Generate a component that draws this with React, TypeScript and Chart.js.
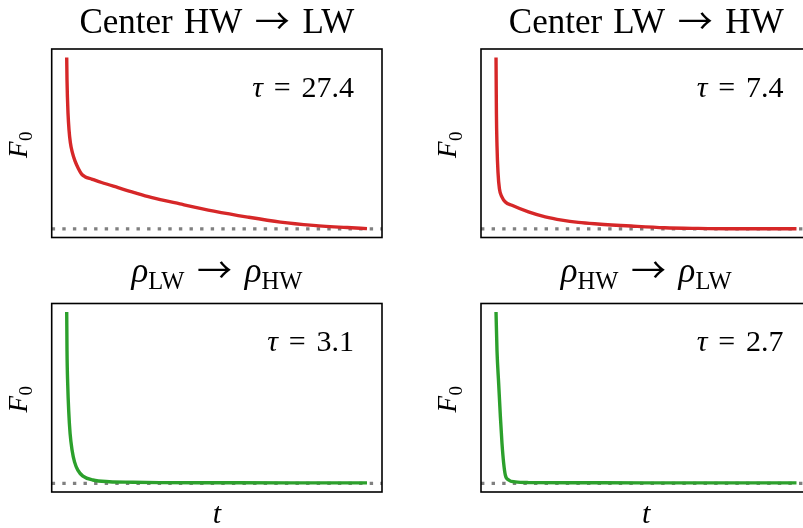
import { useEffect, useRef } from "react";
import { Chart, registerables } from "chart.js";

Chart.register(...registerables);

// ---- data (t normalised to 0..100, F0 normalised to 0..1) ----
const T_HW_LW = [0, 0.1, 0.23, 0.43, 0.76, 1.22, 1.89, 2.75, 3.87, 4.97, 6.06, 8.3, 11.6, 17.1, 22.5, 28.1, 37.7, 49.0, 60.3, 71.2, 82.1, 93.4, 100];
const F_HW_LW = [1.0, 0.869, 0.773, 0.676, 0.58, 0.503, 0.445, 0.397, 0.353, 0.32, 0.305, 0.291, 0.271, 0.241, 0.212, 0.184, 0.146, 0.104, 0.069, 0.04, 0.021, 0.008, 0.002];

const T_LW_HW = [0, 0.05, 0.13, 0.33, 0.66, 1.13, 1.99, 3.11, 5.3, 10.8, 16.4, 21.9, 27.4, 33.8, 45, 56.1, 67.1, 78, 100];
const F_LW_HW = [1.0, 0.87, 0.677, 0.484, 0.33, 0.234, 0.186, 0.157, 0.138, 0.099, 0.07, 0.051, 0.038, 0.029, 0.017, 0.007, 0.003, 0.001, 0.001];

const T_RHO_UP = [0, 0.1, 0.33, 0.66, 1.13, 1.79, 2.6, 3.7, 5.4, 8.7, 14.2, 22, 30.9, 50, 75, 100];
const F_RHO_UP = [1.0, 0.773, 0.58, 0.425, 0.29, 0.194, 0.126, 0.078, 0.043, 0.02, 0.01, 0.007, 0.005, 0.004, 0.003, 0.003];

const T_RHO_DOWN = [0, 0.33, 0.89, 1.46, 1.99, 2.55, 3.1, 4.2, 6.4, 10.9, 25, 50, 75, 100];
const F_RHO_DOWN = [1.0, 0.773, 0.58, 0.387, 0.233, 0.117, 0.049, 0.02, 0.009, 0.005, 0.004, 0.003, 0.003, 0.003];

const TAU_VALUES = ["27.4", "7.4", "3.1", "2.7"];
const BASELINE = 0; // dotted asymptote level
const X_RANGE = [-5, 105];
const Y_RANGE = [-0.05, 1.05];

type Seg = { s: string; it?: boolean; sub?: boolean; gap?: number; fam?: string; dy?: number };

const ARROW_FAMILY = "'Noto Sans CJK JP', 'DejaVu Sans', sans-serif";
const ARROW: Seg = { s: "→", gap: 0.36, fam: ARROW_FAMILY, dy: 0.02 };

const TITLE_HW_LW: Seg[] = [{ s: "Center" }, { s: "HW", gap: 0.32 }, ARROW, { s: "LW", gap: 0.36 }];
const TITLE_LW_HW: Seg[] = [{ s: "Center" }, { s: "LW", gap: 0.32 }, ARROW, { s: "HW", gap: 0.36 }];
const TITLE_RHO_UP: Seg[] = [{ s: "ρ", it: true }, { s: "LW", sub: true }, ARROW, { s: "ρ", it: true, gap: 0.36 }, { s: "HW", sub: true }];
const TITLE_RHO_DOWN: Seg[] = [{ s: "ρ", it: true }, { s: "HW", sub: true }, ARROW, { s: "ρ", it: true, gap: 0.36 }, { s: "LW", sub: true }];
const YLABEL: Seg[] = [{ s: "F", it: true }, { s: "0", sub: true, gap: 0.02 }];
const XLABEL: Seg[] = [{ s: "t", it: true }];

const RED = "#d62728";
const GREEN = "#2ca02c";
const FAMILY = "'Liberation Serif', 'DejaVu Serif', serif";
const CW = 830;
const CH = 528;

type Panel = {
  t: number[];
  f: number[];
  color: string;
  title: Seg[];
  tau: string;
  box: { left: number; right: number; top: number; bottom: number };
  titleBase: number;
  xlabel: boolean;
};

const PANELS: Panel[] = [
  { t: T_HW_LW, f: F_HW_LW, color: RED, title: TITLE_HW_LW, tau: TAU_VALUES[0], box: { left: 51.7, right: 382, top: 49, bottom: 237.5 }, titleBase: 33, xlabel: false },
  { t: T_LW_HW, f: F_LW_HW, color: RED, title: TITLE_LW_HW, tau: TAU_VALUES[1], box: { left: 481, right: 811.5, top: 49, bottom: 237.5 }, titleBase: 33, xlabel: false },
  { t: T_RHO_UP, f: F_RHO_UP, color: GREEN, title: TITLE_RHO_UP, tau: TAU_VALUES[2], box: { left: 51.7, right: 382, top: 303.5, bottom: 492 }, titleBase: 282, xlabel: true },
  { t: T_RHO_DOWN, f: F_RHO_DOWN, color: GREEN, title: TITLE_RHO_DOWN, tau: TAU_VALUES[3], box: { left: 481, right: 811.5, top: 303.5, bottom: 492 }, titleBase: 282, xlabel: true },
];

function drawRich(ctx: CanvasRenderingContext2D, segs: Seg[], size: number, x: number, y: number, align: "left" | "center" | "right") {
  const parts = segs.map((g) => {
    const sz = g.sub ? size * 0.7 : size;
    const font = `${g.it ? "italic " : ""}${sz}px ${g.fam || FAMILY}`;
    ctx.font = font;
    const w = ctx.measureText(g.s).width;
    return { g, font, w, gap: (g.gap || 0) * size, dy: (g.sub ? size * 0.2 : 0) + (g.dy || 0) * size };
  });
  const total = parts.reduce((a, p) => a + p.w + p.gap, 0);
  let cx = align === "left" ? x : align === "center" ? x - total / 2 : x - total;
  ctx.textAlign = "left";
  ctx.textBaseline = "alphabetic";
  ctx.fillStyle = "#000";
  for (const p of parts) {
    cx += p.gap;
    ctx.font = p.font;
    ctx.fillText(p.g.s, cx, y + p.dy);
    cx += p.w;
  }
}

function makeDecor(panel: Panel) {
  return {
    id: "decor",
    afterDraw(chart: Chart) {
      const ctx = chart.ctx;
      const a = chart.chartArea;
      const w = a.right - a.left;
      const h = a.bottom - a.top;
      ctx.save();
      ctx.strokeStyle = "#000";
      ctx.lineWidth = 1.6;
      ctx.strokeRect(a.left, a.top, w, h);
      const cx = (a.left + a.right) / 2;
      const cy = (a.top + a.bottom) / 2;
      drawRich(ctx, panel.title, 35, cx, panel.titleBase, "center");
      drawRich(
        ctx,
        [{ s: "τ", it: true }, { s: "=", gap: 0.36 }, { s: panel.tau, gap: 0.36 }],
        30,
        a.left + 0.915 * w,
        a.bottom - 0.746 * h,
        "right"
      );
      ctx.save();
      ctx.translate(a.left - 24.7, cy + 1.5);
      ctx.rotate(-Math.PI / 2);
      drawRich(ctx, YLABEL, 27, 0, 0, "center");
      ctx.restore();
      if (panel.xlabel) drawRich(ctx, XLABEL, 30, cx, a.bottom + 31, "center");
      ctx.restore();
    },
  };
}

function PanelChart({ panel }: { panel: Panel }) {
  const ref = useRef<HTMLCanvasElement | null>(null);
  useEffect(() => {
    if (!ref.current) return;
    const b = panel.box;
    const chart = new Chart(ref.current, {
      type: "line",
      data: {
        datasets: [
          {
            data: panel.t.map((x, i) => ({ x, y: panel.f[i] })),
            borderColor: panel.color,
            borderWidth: 3.4,
            pointRadius: 0,
            cubicInterpolationMode: "monotone",
            borderCapStyle: "butt",
            fill: false,
            order: 0,
          },
          {
            data: [
              { x: X_RANGE[0], y: BASELINE },
              { x: X_RANGE[1], y: BASELINE },
            ],
            borderColor: "#808080",
            borderWidth: 3.2,
            borderDash: [3.4, 7.2],
            borderCapStyle: "butt",
            pointRadius: 0,
            fill: false,
            order: 1,
          },
        ],
      },
      options: {
        animation: false,
        responsive: false,
        devicePixelRatio: 1,
        events: [],
        layout: { padding: { left: b.left, top: b.top, right: CW - b.right, bottom: CH - b.bottom } },
        scales: {
          x: { type: "linear", min: X_RANGE[0], max: X_RANGE[1], display: false },
          y: { type: "linear", min: Y_RANGE[0], max: Y_RANGE[1], display: false },
        },
        plugins: { legend: { display: false }, tooltip: { enabled: false }, title: { display: false } },
      },
      plugins: [makeDecor(panel)],
    } as any);
    return () => chart.destroy();
  }, [panel]);
  return <canvas ref={ref} width={CW} height={CH} style={{ position: "absolute", left: 0, top: 0, width: CW, height: CH }} />;
}

export default function App() {
  return (
    <div style={{ position: "fixed", left: 0, top: 0, width: 803, height: 528, overflow: "hidden", background: "#fff" }}>
      {PANELS.map((p, i) => (
        <PanelChart key={i} panel={p} />
      ))}
    </div>
  );
}
